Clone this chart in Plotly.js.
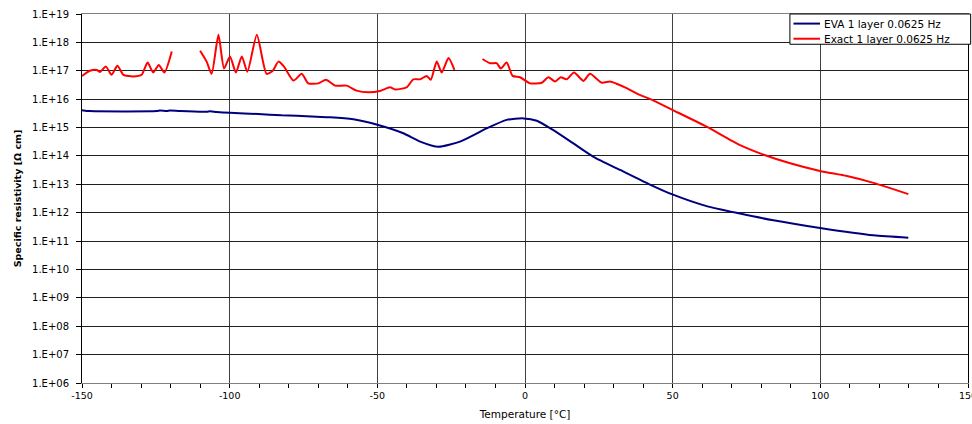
<!DOCTYPE html>
<html>
<head>
<meta charset="utf-8">
<script src="https://cdn.plot.ly/plotly-3.0.1.min.js"></script>
<style>
html,body{margin:0;padding:0;background:#fff;}
#chart{width:972px;height:424px;}
</style>
</head>
<body>
<div id="chart"></div>
<script>
// ---- data ----
const evaName = "EVA 1 layer 0.0625 Hz";
const exactName = "Exact 1 layer 0.0625 Hz";

const evaT = [-150,-147.3,-124.7,-123.6,-121.3,-120.2,-116.8,-107.8,-106.7,-104.4,-99.9,-90.3,-82.4,-77.3,-70.5,-66,-58.1,-49.7,-41.2,-35.5,-29.3,-22,-13,-6.2,-0.5,4,9.6,16.4,23.2,32.2,42.3,49.9,61.5,72.8,84.1,99.9,118,129.8];
const evaR = [4.1e15,3.8e15,3.8e15,4.0e15,3.85e15,4.0e15,3.8e15,3.6e15,3.75e15,3.55e15,3.3e15,3.0e15,2.7e15,2.6e15,2.4e15,2.3e15,1.95e15,1.23e15,6.3e14,3.2e14,2.1e14,3.2e14,9.3e14,1.86e15,2.1e15,1.74e15,8.1e14,2.75e14,9.3e13,3.2e13,9.8e12,4.4e12,1.7e12,9.3e11,5.4e11,2.9e11,1.6e11,1.32e11];

const exactT = [-150,-147.3,-145,-143.9,-141.9,-140,-138,-136,-132.6,-129.8,-127.8,-125.9,-124,-122.1,-119.6,
  -115,
  -110,-107.8,-106.1,-103.8,-101.9,-99.9,-97.9,-95.9,-94,-90.8,-87.5,-85.4,-83.5,-81.6,-78.4,-75.6,-73.4,-70,-67.4,-64.3,-60.4,-57,-53,-49.1,-45.7,-44,-40.1,-37.8,-35.5,-33.3,-31.9,-29.9,-28.2,-25.9,-23.9,
  -19,
  -14.4,-11.8,-9.6,-8.2,-6.2,-4.2,-1.7,1.7,5.7,7.9,10.2,12.1,14.1,16.6,19.8,22,26,28.8,31,34.4,38.4,42.3,49.9,61.5,72.8,79.6,89.8,99.9,109,118,129.8];
const exactR = [6.6e16,1.0e17,1.07e17,9.1e16,1.4e17,7.2e16,1.5e17,7.2e16,6.3e16,7.2e16,1.95e17,8.7e16,1.6e17,8.7e16,4.8e17,
  null,
  5.1e17,2.1e17,7.8e16,1.85e18,1.2e17,3.2e17,8.7e16,3.2e17,9.3e16,1.85e18,7.8e16,1.0e17,2.1e17,1.4e17,4.5e16,7.8e16,3.6e16,3.6e16,4.8e16,3.0e16,3.0e16,2.0e16,1.74e16,1.95e16,2.6e16,2.2e16,2.6e16,5.0e16,5.0e16,6.6e16,4.8e16,2.1e17,8.7e16,2.8e17,1.07e17,
  null,
  2.6e17,1.85e17,1.85e17,1.2e17,1.95e17,6.6e16,5.9e16,3.6e16,3.8e16,5.9e16,4.2e16,5.9e16,5.0e16,8.7e16,4.4e16,7.8e16,3.8e16,4.2e16,3.5e16,2.45e16,1.48e16,1.02e16,4.2e15,1.07e15,2.4e14,1.23e14,5.5e13,2.95e13,1.95e13,1.12e13,4.5e12];

const yTickVals = [1e6,1e7,1e8,1e9,1e10,1e11,1e12,1e13,1e14,1e15,1e16,1e17,1e18,1e19];
const yTickText = ["1.E+06","1.E+07","1.E+08","1.E+09","1.E+10","1.E+11","1.E+12","1.E+13","1.E+14","1.E+15","1.E+16","1.E+17","1.E+18","1.E+19"];
const xTickVals = [-150,-100,-50,0,50,100,150];
const xTickText = ["-150","-100","-50","0","50","100","150"];

const xTitle = "Temperature [°C]";
const yTitle = "Specific resistivity [Ω cm]";

const seriesColors = ['#00007f', '#ff0000'];
const seriesNames = [evaName, exactName];

// ---- plot ----
const traces = [
  {x: evaT, y: evaR, name: evaName, type: 'scatter', mode: 'lines', showlegend: false,
   line: {color: seriesColors[0], width: 2, shape: 'spline', smoothing: 0.6}},
  {x: exactT, y: exactR, name: exactName, type: 'scatter', mode: 'lines', connectgaps: false, showlegend: false,
   line: {color: seriesColors[1], width: 2, shape: 'spline', smoothing: 0.6}}
];

// legend box drawn in paper coordinates (Excel-style compact legend)
const legX0 = 0.799, legX1 = 1.003, legY0 = 0.918, legY1 = 1.0;
const itemY = [0.974, 0.933];
const shapes = [
  {type: 'rect', xref: 'paper', yref: 'paper', x0: legX0, x1: legX1, y0: legY0, y1: legY1,
   line: {color: '#000', width: 1}, fillcolor: '#ffffff', layer: 'above'}
];
const annotations = [];
seriesNames.forEach((nm, i) => {
  shapes.push({type: 'line', xref: 'paper', yref: 'paper', x0: 0.803, x1: 0.833, y0: itemY[i], y1: itemY[i],
               line: {color: seriesColors[i], width: 2}, layer: 'above'});
  annotations.push({xref: 'paper', yref: 'paper', x: 0.835, y: itemY[i], xanchor: 'left', yanchor: 'middle',
                    text: nm, showarrow: false, font: {size: 10.5, color: '#000'}});
});

const layout = {
  width: 972, height: 424,
  margin: {l: 82, r: 4, t: 14, b: 41},
  paper_bgcolor: '#ffffff', plot_bgcolor: '#ffffff',
  font: {family: 'DejaVu Sans, Arial, sans-serif', size: 9, color: '#000'},
  showlegend: false,
  shapes: shapes,
  annotations: annotations,
  xaxis: {
    range: [-150, 150], tickvals: xTickVals, ticktext: xTickText,
    showgrid: true, gridcolor: '#404040', gridwidth: 1, zeroline: false,
    showline: true, linecolor: '#808080', linewidth: 1, mirror: true,
    ticks: 'outside', ticklen: 4, tickcolor: '#000', ticklabeloverflow: 'allow',
    minor: {dtick: 10, ticks: 'outside', ticklen: 4, tickcolor: '#000', showgrid: false},
    tickfont: {size: 9.5},
    title: {text: xTitle, font: {size: 10.5}, standoff: 10}
  },
  yaxis: {
    type: 'log', range: [6, 19], tickvals: yTickVals, ticktext: yTickText,
    showgrid: true, gridcolor: '#202020', gridwidth: 1, zeroline: false,
    showline: true, linecolor: '#000', linewidth: 1, mirror: true,
    ticks: 'outside', ticklen: 5, tickcolor: '#000', ticklabelstandoff: 5,
    minor: {ticks: 'outside', ticklen: 2, tickcolor: '#000', showgrid: false},
    tickfont: {size: 10},
    title: {text: yTitle, font: {size: 9.5, weight: 'bold'}, standoff: 8}
  }
};

Plotly.newPlot('chart', traces, layout, {displayModeBar: false, staticPlot: true});
</script>
</body>
</html>
